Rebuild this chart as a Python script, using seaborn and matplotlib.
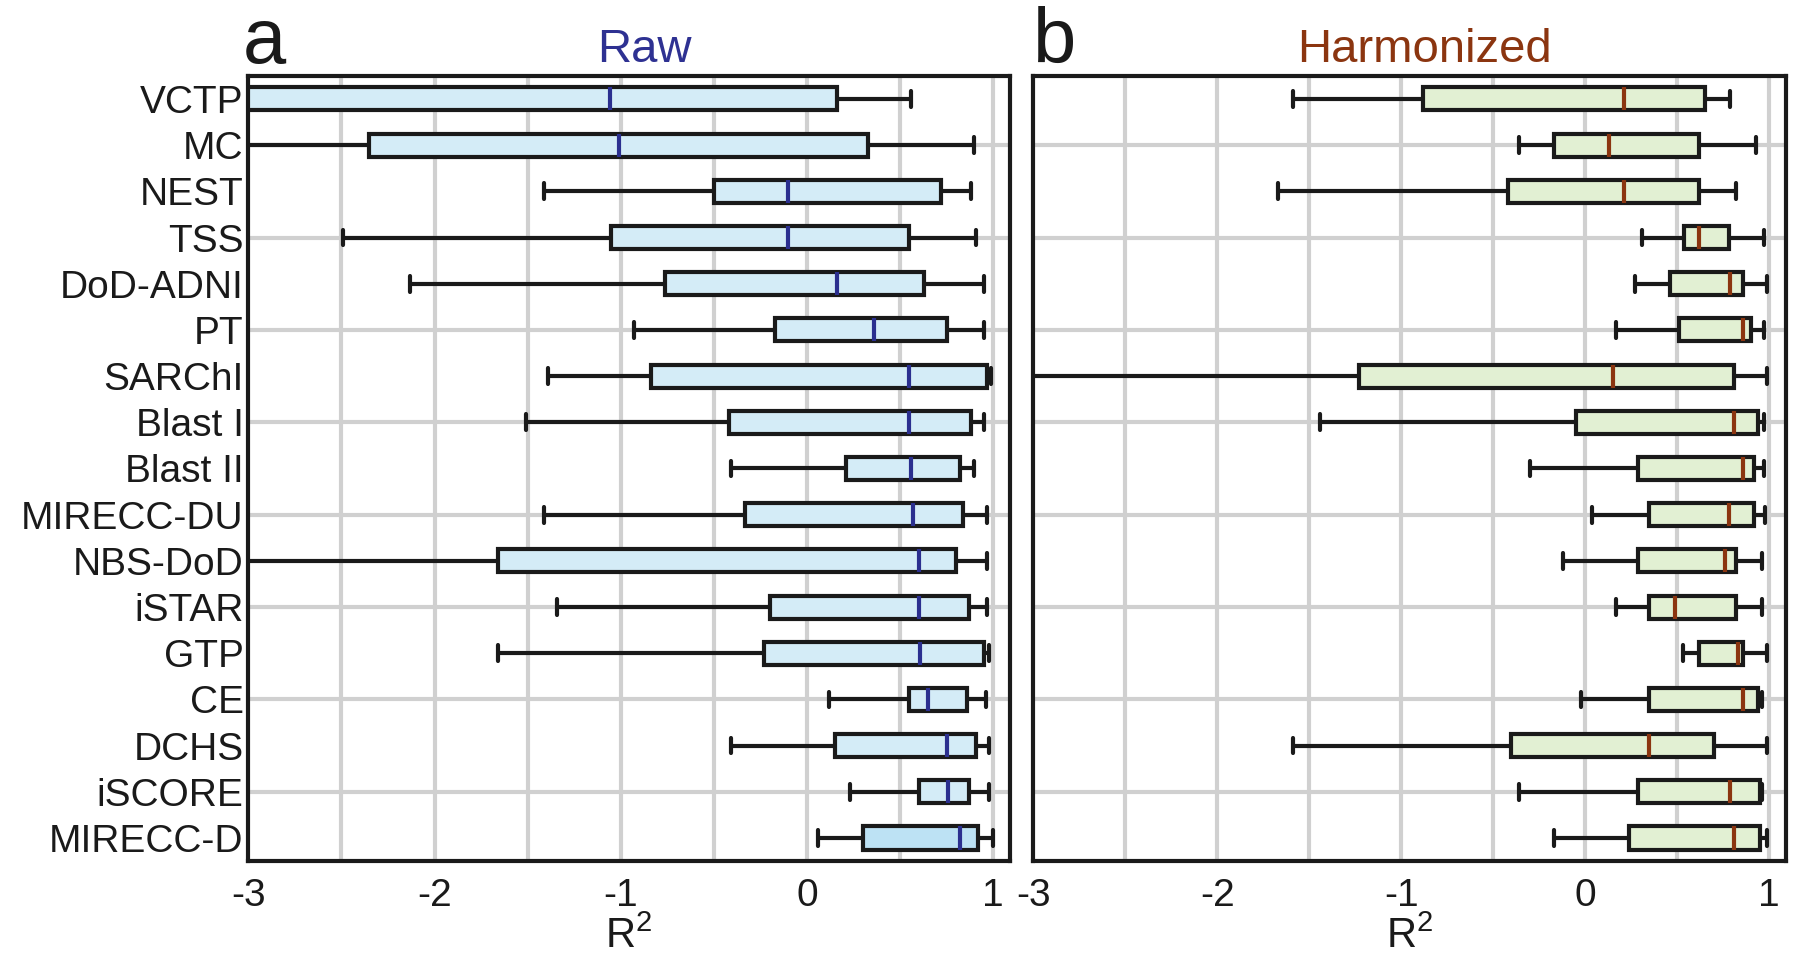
import numpy as np
import pandas as pd
import matplotlib
matplotlib.use("Agg")
import matplotlib.pyplot as plt
import seaborn as sns

# sites, top to bottom
sites = ["VCTP", "MC", "NEST", "TSS", "DoD-ADNI", "PT", "SARChI", "Blast I", "Blast II",
         "MIRECC-DU", "NBS-DoD", "iSTAR", "GTP", "CE", "DCHS", "iSCORE", "MIRECC-D"]

# raw R2 summary (whisker low, q1, median, q3, whisker high)
raw_lo = [-4.5, -4.0, -1.41, -2.49, -2.13, -0.93, -1.39, -1.51, -0.41,
          -1.41, -4.0, -1.34, -1.66, 0.12, -0.41, 0.23, 0.06]
raw_q1 = [-3.3, -2.35, -0.50, -1.05, -0.76, -0.17, -0.84, -0.42, 0.21,
          -0.33, -1.66, -0.20, -0.23, 0.55, 0.15, 0.60, 0.30]
raw_med = [-1.06, -1.01, -0.10, -0.10, 0.16, 0.36, 0.55, 0.55, 0.56,
           0.57, 0.60, 0.60, 0.61, 0.65, 0.75, 0.76, 0.82]
raw_q3 = [0.16, 0.33, 0.72, 0.55, 0.63, 0.75, 0.97, 0.88, 0.82,
          0.84, 0.80, 0.87, 0.95, 0.86, 0.91, 0.87, 0.92]
raw_hi = [0.56, 0.90, 0.88, 0.91, 0.95, 0.95, 0.99, 0.95, 0.90,
          0.97, 0.97, 0.97, 0.98, 0.96, 0.98, 0.98, 1.00]

# harmonized R2 summary
har_lo = [-1.59, -0.36, -1.67, 0.31, 0.27, 0.17, -4.0, -1.44, -0.30,
          0.04, -0.12, 0.17, 0.53, -0.02, -1.59, -0.36, -0.17]
har_q1 = [-0.88, -0.17, -0.42, 0.54, 0.46, 0.51, -1.23, -0.05, 0.29,
          0.35, 0.29, 0.35, 0.62, 0.35, -0.40, 0.29, 0.24]
har_med = [0.21, 0.13, 0.21, 0.62, 0.79, 0.86, 0.15, 0.81, 0.86,
           0.78, 0.76, 0.49, 0.83, 0.86, 0.35, 0.79, 0.81]
har_q3 = [0.65, 0.62, 0.62, 0.78, 0.86, 0.90, 0.81, 0.94, 0.92,
          0.92, 0.82, 0.82, 0.86, 0.94, 0.70, 0.95, 0.95]
har_hi = [0.79, 0.93, 0.82, 0.97, 0.99, 0.97, 0.99, 0.97, 0.97,
          0.98, 0.96, 0.96, 0.99, 0.96, 0.99, 0.96, 0.99]

x_ticks = [-3, -2, -1, 0, 1]


def long_form(lo, q1, med, q3, hi):
    # five points per site give exactly these quartiles / extremes
    rows = []
    for i, s in enumerate(sites):
        for v in (lo[i], q1[i], med[i], q3[i], hi[i]):
            rows.append({"site": s, "r2": v})
    return pd.DataFrame(rows)


df_raw = long_form(raw_lo, raw_q1, raw_med, raw_q3, raw_hi)
df_har = long_form(har_lo, har_q1, har_med, har_q3, har_hi)

sns.set_style("white")
plt.rcParams["font.family"] = ["Liberation Sans", "DejaVu Sans"]
plt.rcParams["axes.unicode_minus"] = False
plt.rcParams["mathtext.fontset"] = "custom"
plt.rcParams["mathtext.rm"] = "Liberation Sans"

fig = plt.figure(figsize=(18, 9.6), dpi=100)
ax1 = fig.add_axes([0.138, 0.103, 0.423, 0.818])
ax2 = fig.add_axes([0.574, 0.103, 0.418, 0.818])

raw_fill = ["#d4ecf7"] * 16 + ["#bde2f4"]
har_fill = ["#e2f0d3"] * 17
grid_col = "#d0d0d0"

panels = [(ax1, df_raw, raw_fill, "#2b2f8f", "Raw", "#2e3192"),
          (ax2, df_har, har_fill, "#8b3510", "Harmonized", "#8b3510")]

for ax, df, fills, med_col, title, title_col in panels:
    sns.boxplot(data=df, x="r2", y="site", hue="site", order=sites, hue_order=sites,
                palette=fills, saturation=1, width=0.5, whis=np.inf,
                linecolor="#1a1a1a", linewidth=3.0, capwidths=0.34,
                medianprops=dict(color=med_col, linewidth=3.0),
                legend=False, ax=ax, zorder=3)
    ax.set_xlim(-3, 1.09)
    ax.set_ylim(len(sites) - 0.5, -0.5)
    ax.set_xticks(x_ticks)
    ax.set_xticklabels([str(t) for t in x_ticks])
    ax.set_yticks(range(len(sites)))
    ax.grid(False)
    # vertical grid every 0.5, horizontal grid on every other row
    for gx in np.arange(-2.5, 1.01, 0.5):
        ax.axvline(gx, color=grid_col, linewidth=3.0, zorder=0)
    for gy in range(1, len(sites), 2):
        ax.axhline(gy, color=grid_col, linewidth=3.0, zorder=0)
    ax.tick_params(axis="both", which="both", length=0, labelsize=28, colors="#1a1a1a")
    ax.tick_params(axis="x", pad=12)
    ax.set_xlabel(r"$\mathregular{R^2}$", fontsize=30, color="#1a1a1a", labelpad=2)
    ax.set_ylabel("")
    ax.set_title(title, fontsize=34, color=title_col, pad=10, x=0.52)
    for sp in ax.spines.values():
        sp.set_visible(True)
        sp.set_color("#1a1a1a")
        sp.set_linewidth(3.0)
        sp.set_zorder(5)

ax1.set_yticklabels(sites)
ax2.set_yticklabels([])

fig.text(0.135, 0.934, "a", fontsize=56, color="#1a1a1a", va="baseline")
fig.text(0.574, 0.934, "b", fontsize=56, color="#1a1a1a", va="baseline")

fig.savefig("out.png", dpi=100)
